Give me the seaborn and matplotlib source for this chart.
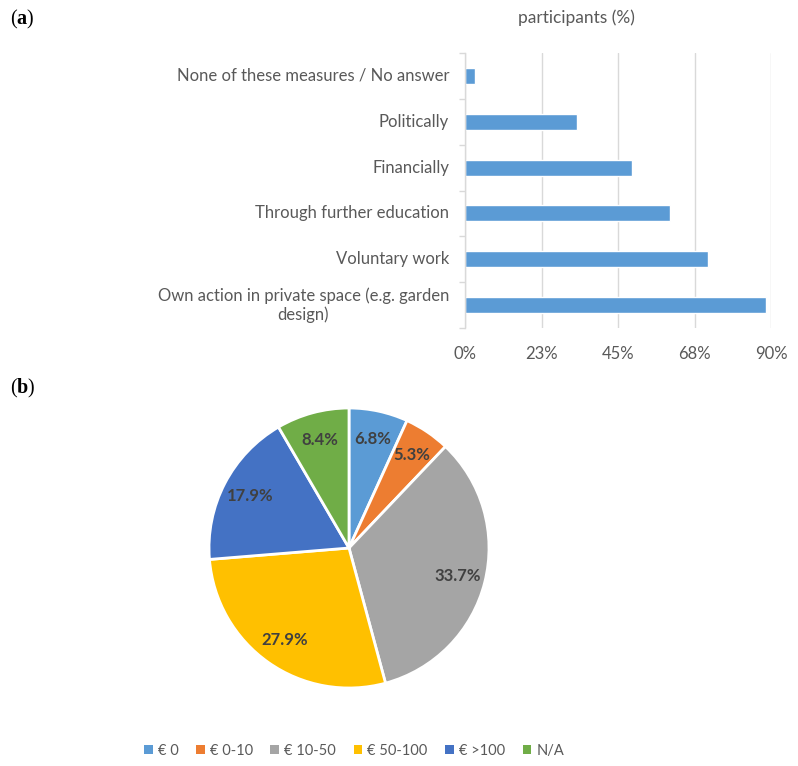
import matplotlib
matplotlib.use("Agg")
import matplotlib.pyplot as plt
from matplotlib.patches import Patch
import numpy as np
import pandas as pd
import seaborn as sns

# (a) bar chart data
measures = ["None of these measures / No answer", "Politically", "Financially",
            "Through further education", "Voluntary work",
            "Own action in private space (e.g. garden\ndesign)"]
participants = [3.0, 32.9, 49.2, 60.3, 71.6, 88.5]
x_ticks = [0, 22.5, 45, 67.5, 90]
x_tick_labels = ["0%", "23%", "45%", "68%", "90%"]

# (b) pie chart data
spend_labels = ["€ 0", "€ 0-10", "€ 10-50", "€ 50-100", "€ >100", "N/A"]
spend_share = [6.8, 5.3, 33.7, 27.9, 17.9, 8.4]
spend_colors = ["#5B9BD5", "#ED7D31", "#A5A5A5", "#FFC000", "#4472C4", "#70AD47"]

sns.set_theme(style="white")
plt.rcParams["font.family"] = ["Lato", "DejaVu Sans"]
plt.rcParams["mathtext.fontset"] = "custom"
plt.rcParams["mathtext.rm"] = "Liberation Serif"
plt.rcParams["mathtext.bf"] = "Liberation Serif:bold"

grey_txt = "#595959"
grid_col = "#D9D9D9"
W, H = 798, 766

fig = plt.figure(figsize=(W / 100, H / 100), dpi=100)

# ---- (a) ----
ax1 = fig.add_axes([465 / W, (H - 328) / H, (771 - 465) / W, (328 - 53) / H])
df = pd.DataFrame({"measure": measures, "pct": participants})
sns.barplot(data=df, y="measure", x="pct", ax=ax1, color="#5B9BD5",
            width=0.35, saturation=1, orient="h")
ax1.set_xlim(0, 90)
ax1.set_ylim(5.5, -0.5)
ax1.set_xticks(x_ticks)
ax1.set_xticklabels(x_tick_labels)
ax1.set_yticks(range(len(measures)))
ax1.set_yticklabels([])
ax1.set_xlabel("")
ax1.set_ylabel("")
ax1.grid(axis="x", color=grid_col, linewidth=1)
ax1.set_axisbelow(True)
for s in ["top", "right", "bottom"]:
    ax1.spines[s].set_visible(False)
ax1.spines["left"].set_color(grid_col)
ax1.spines["left"].set_linewidth(1)
ax1.set_yticks(np.arange(-0.5, 6, 1), minor=True)
ax1.tick_params(axis="y", which="major", length=0)
ax1.tick_params(axis="y", which="minor", length=4, color=grid_col, width=1, left=True)
ax1.tick_params(axis="x", length=0, pad=13, labelsize=12, labelcolor=grey_txt)

# category labels: right aligned, wrapped lines centred
ytr = ax1.get_yaxis_transform()
for i, m in enumerate(measures):
    ax1.text(-16 / 306, i, m, transform=ytr, ha="right", va="center",
             multialignment="center", fontsize=12, color=grey_txt)

fig.text(576 / W, 1 - 18 / H, "participants (%)", ha="center", va="center",
         fontsize=12.5, color=grey_txt)
fig.text(10 / W, 1 - 19 / H, r"$\mathrm{(}\mathbf{a}\mathrm{)}$", ha="left", va="center",
         fontsize=14.5, color="black")
fig.text(10 / W, 1 - 388 / H, r"$\mathrm{(}\mathbf{b}\mathrm{)}$", ha="left", va="center",
         fontsize=14.5, color="black")

# ---- (b) ----
ax2 = fig.add_axes([209 / W, (H - 688) / H, 280 / W, 280 / H])
wedges, texts, autotexts = ax2.pie(
    spend_share, colors=spend_colors, startangle=90, counterclock=False,
    autopct="%.1f%%", pctdistance=0.8,
    wedgeprops=dict(edgecolor="white", linewidth=2),
    textprops=dict(color="#404040", fontsize=12, fontweight="bold"))
ax2.set_xlim(-1, 1)
ax2.set_ylim(-1, 1)
ax2.set_aspect("equal")

handles = [Patch(facecolor=c, edgecolor="none") for c in spend_colors]
leg = fig.legend(handles, spend_labels, loc="center", ncol=6,
                 bbox_to_anchor=(354 / W, 1 - 751 / H), frameon=False,
                 handlelength=0.6, handleheight=0.6, handletextpad=0.35,
                 columnspacing=1.2, fontsize=10.5)
for t in leg.get_texts():
    t.set_color(grey_txt)

fig.savefig("out.png", dpi=100, facecolor="white")
